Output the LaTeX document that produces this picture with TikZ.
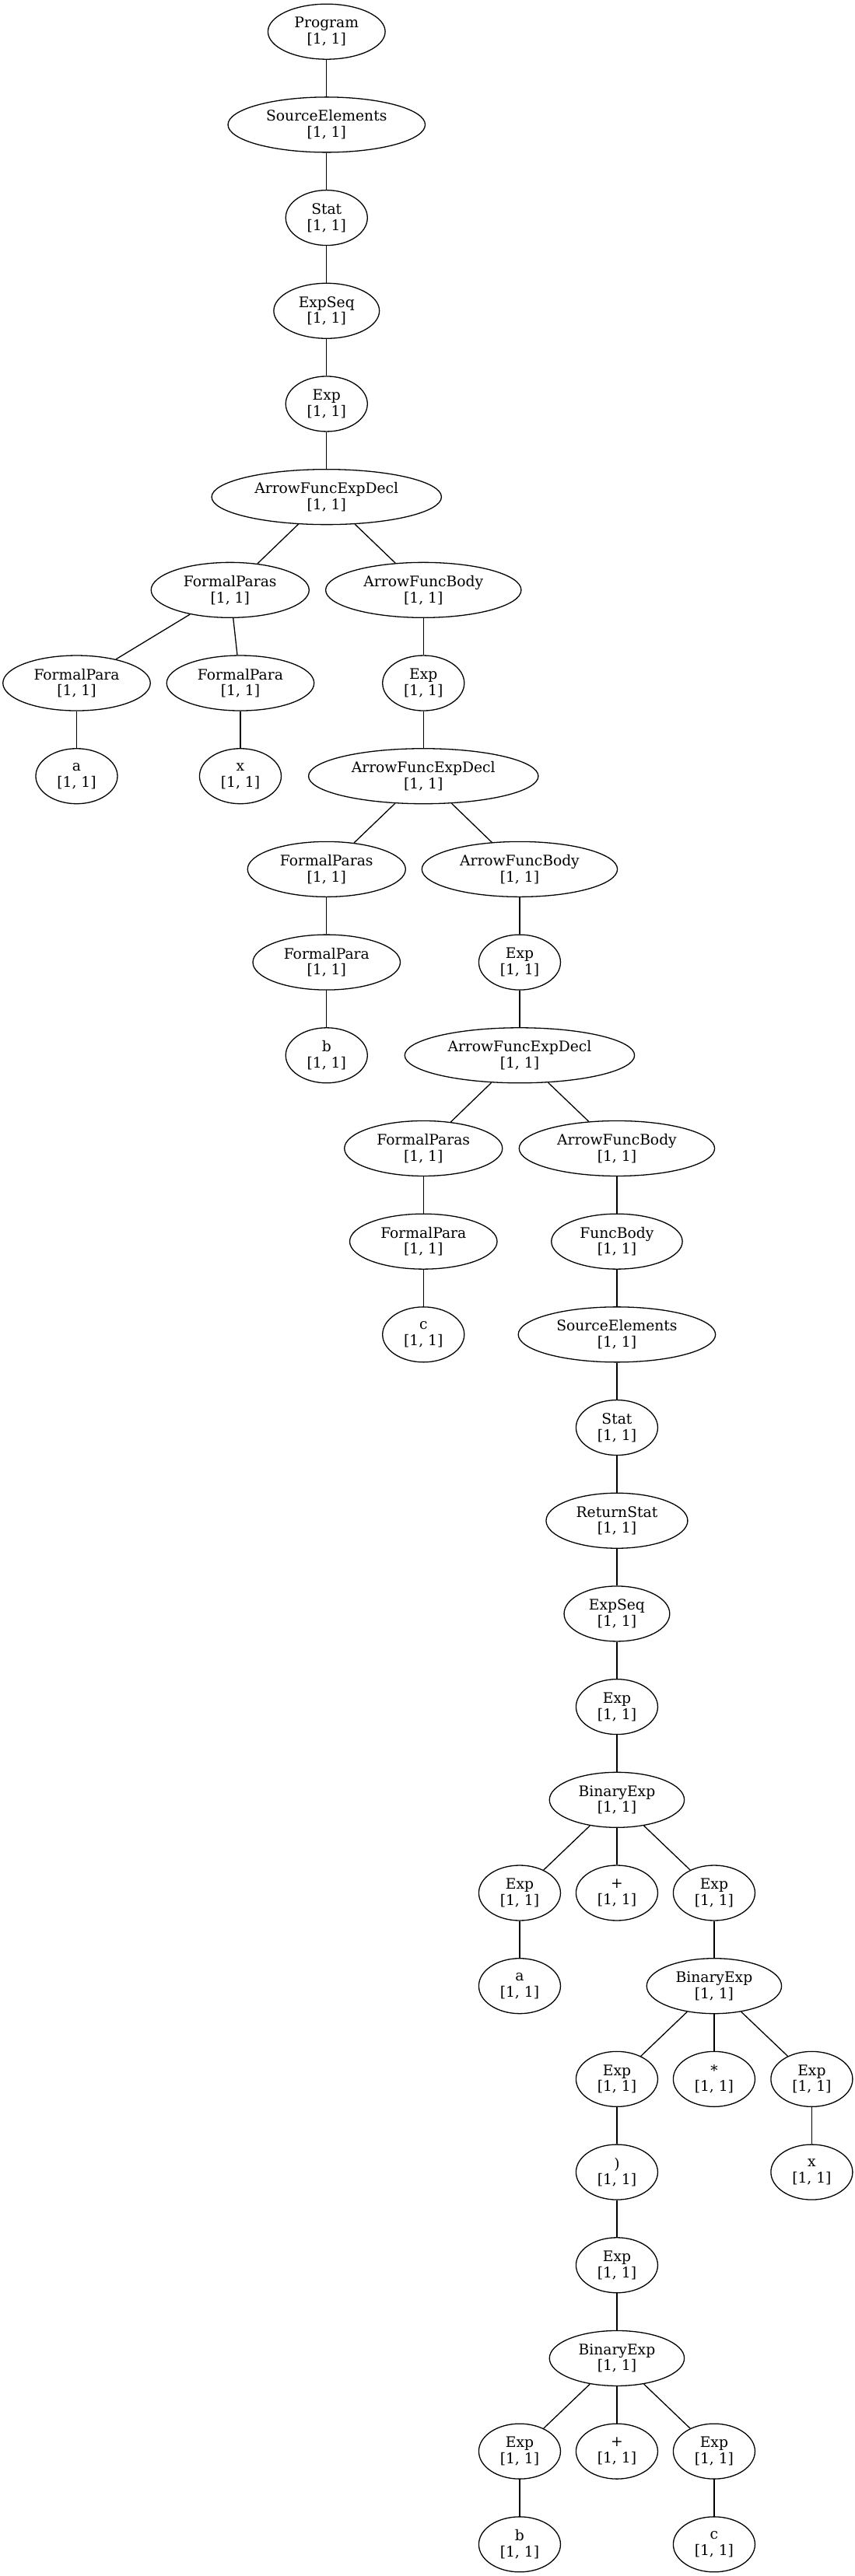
\documentclass[tikz,border=0pt]{standalone}
\usepackage{fontspec}
\setmainfont{DejaVu Serif}
\usetikzlibrary{shapes.geometric}

\begin{document}
\begin{tikzpicture}[x=1pt,y=-119.7pt,line width=1.3pt,
  tn/.style={draw,ellipse,align=center,inner xsep=12pt,inner ysep=2pt,
    minimum width=102pt,minimum height=71pt,
    font=\fontsize{18.7}{20.7}\selectfont}]
\useasboundingbox (0,-0.34) rectangle (1099,27.34);
% top chain
\node[tn] (prog) at (419.8,0) {Program\\{[1, 1]}};
\node[tn] (se) at (419.8,1) {SourceElements\\{[1, 1]}};
\node[tn] (st) at (419.8,2) {Stat\\{[1, 1]}};
\node[tn] (es) at (419.8,3) {ExpSeq\\{[1, 1]}};
\node[tn] (ex) at (419.8,4) {Exp\\{[1, 1]}};
\node[tn] (af) at (419.8,5) {ArrowFuncExpDecl\\{[1, 1]}};
% first arrow function
\node[tn] (fpsA) at (295.8,6) {FormalParas\\{[1, 1]}};
\node[tn] (afbA) at (544.3,6) {ArrowFuncBody\\{[1, 1]}};
\node[tn] (fpA1) at (98.5,7) {FormalPara\\{[1, 1]}};
\node[tn] (fpA2) at (309,7) {FormalPara\\{[1, 1]}};
\node[tn] (exA) at (544.3,7) {Exp\\{[1, 1]}};
\node[tn] (pa) at (98.5,8) {a\\{[1, 1]}};
\node[tn] (px) at (309,8) {x\\{[1, 1]}};
\node[tn] (afB) at (544.3,8) {ArrowFuncExpDecl\\{[1, 1]}};
% second arrow function
\node[tn] (fpsB) at (419.8,9) {FormalParas\\{[1, 1]}};
\node[tn] (afbB) at (668,9) {ArrowFuncBody\\{[1, 1]}};
\node[tn] (fpB) at (419.8,10) {FormalPara\\{[1, 1]}};
\node[tn] (exB) at (668,10) {Exp\\{[1, 1]}};
\node[tn] (pb) at (419.8,11) {b\\{[1, 1]}};
\node[tn] (afC) at (668,11) {ArrowFuncExpDecl\\{[1, 1]}};
% third arrow function
\node[tn] (fpsC) at (544.3,12) {FormalParas\\{[1, 1]}};
\node[tn] (afbC) at (793,12) {ArrowFuncBody\\{[1, 1]}};
\node[tn] (fpC) at (544.3,13) {FormalPara\\{[1, 1]}};
\node[tn] (fb) at (793,13) {FuncBody\\{[1, 1]}};
\node[tn] (pc) at (544.3,14) {c\\{[1, 1]}};
\node[tn] (se2) at (793,14) {SourceElements\\{[1, 1]}};
\node[tn] (st2) at (793,15) {Stat\\{[1, 1]}};
\node[tn] (rs) at (793,16) {ReturnStat\\{[1, 1]}};
\node[tn] (es2) at (793,17) {ExpSeq\\{[1, 1]}};
\node[tn] (ex2) at (793,18) {Exp\\{[1, 1]}};
% a + x * (b + c)
\node[tn] (bin1) at (793,19) {BinaryExp\\{[1, 1]}};
\node[tn] (exL1) at (668,20) {Exp\\{[1, 1]}};
\node[tn] (plus1) at (793,20) {+\\{[1, 1]}};
\node[tn] (exR1) at (918,20) {Exp\\{[1, 1]}};
\node[tn] (va) at (668,21) {a\\{[1, 1]}};
\node[tn] (bin2) at (918,21) {BinaryExp\\{[1, 1]}};
\node[tn] (exL2) at (793,22) {Exp\\{[1, 1]}};
\node[tn] (star) at (918,22) {*\\{[1, 1]}};
\node[tn] (exR2) at (1043.5,22) {Exp\\{[1, 1]}};
\node[tn] (par) at (793,23) {)\\{[1, 1]}};
\node[tn] (vx) at (1043.5,23) {x\\{[1, 1]}};
\node[tn] (ex3) at (793,24) {Exp\\{[1, 1]}};
\node[tn] (bin3) at (793,25) {BinaryExp\\{[1, 1]}};
\node[tn] (exL3) at (668,26) {Exp\\{[1, 1]}};
\node[tn] (plus2) at (793,26) {+\\{[1, 1]}};
\node[tn] (exR3) at (918,26) {Exp\\{[1, 1]}};
\node[tn] (vb) at (668,27) {b\\{[1, 1]}};
\node[tn] (vc) at (918,27) {c\\{[1, 1]}};
% edges
\foreach \a/\b in {prog/se,se/st,st/es,es/ex,ex/af,af/fpsA,af/afbA,
  fpsA/fpA1,fpsA/fpA2,fpA1/pa,fpA2/px,afbA/exA,exA/afB,afB/fpsB,afB/afbB,
  fpsB/fpB,fpB/pb,afbB/exB,exB/afC,afC/fpsC,afC/afbC,fpsC/fpC,fpC/pc,
  afbC/fb,fb/se2,se2/st2,st2/rs,rs/es2,es2/ex2,ex2/bin1,
  bin1/exL1,bin1/plus1,bin1/exR1,exL1/va,exR1/bin2,
  bin2/exL2,bin2/star,bin2/exR2,exL2/par,exR2/vx,par/ex3,ex3/bin3,
  bin3/exL3,bin3/plus2,bin3/exR3,exL3/vb,exR3/vc}
  \draw (\a) -- (\b);
\end{tikzpicture}
\end{document}
